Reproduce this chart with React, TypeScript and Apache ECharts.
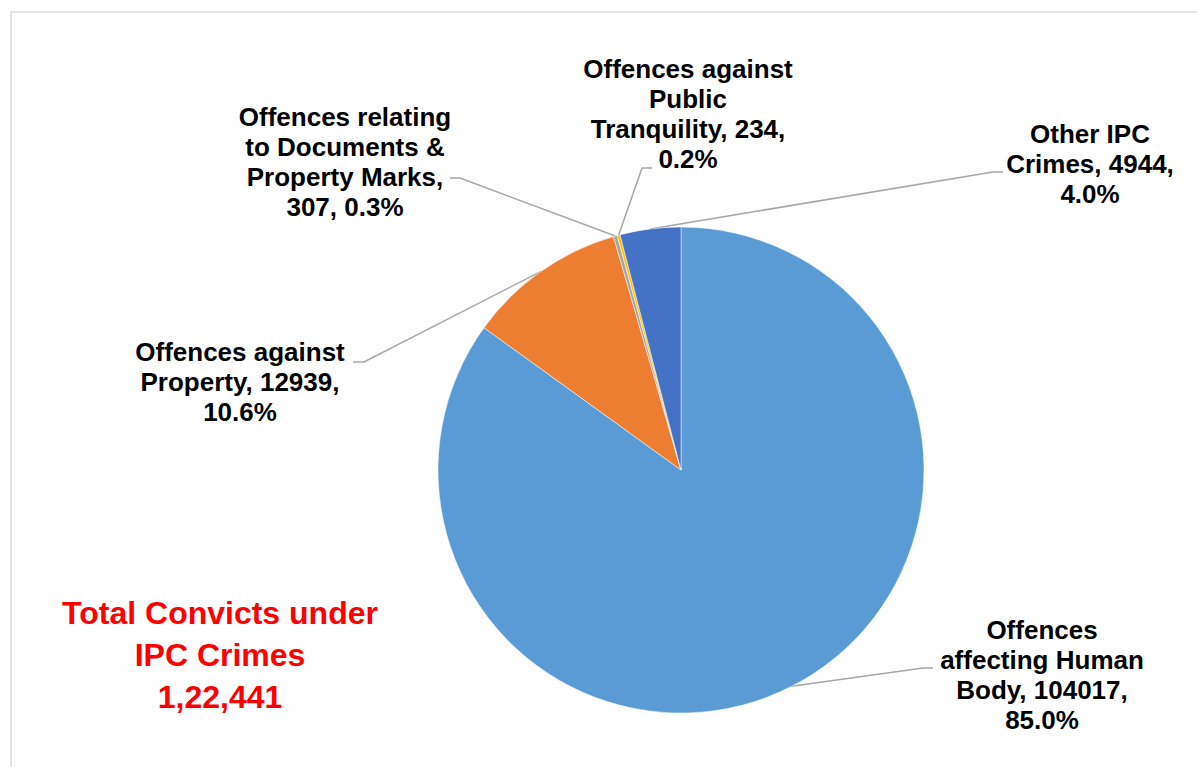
import React, { useEffect, useRef } from "react";
import * as echarts from "echarts";

// ---- data ----
const categories = [
  "Offences affecting Human Body",
  "Offences against Property",
  "Offences relating to Documents & Property Marks",
  "Offences against Public Tranquility",
  "Other IPC Crimes",
];
const wrappedNames = [
  "Offences\naffecting Human\nBody",
  "Offences against\nProperty",
  "Offences relating\nto Documents &\nProperty Marks",
  "Offences against\nPublic\nTranquility",
  "Other IPC\nCrimes",
];
const values = [104017, 12939, 307, 234, 4944];
const breakAfterName = [false, false, true, false, false];
const totalTitleLines = ["Total Convicts under", "IPC Crimes"];

// ---- styles / layout ----
const colors = ["#5B9BD5", "#ED7D31", "#A5A5A5", "#FFC000", "#4472C4"];
const labelPos = [
  { x: 1042, y: 675, elbow: [923, 668], end: [933, 668] },
  { x: 240, y: 382, elbow: [364, 362], end: [353, 362] },
  { x: 345, y: 162, elbow: [460, 178], end: [450, 178] },
  { x: 688, y: 114, elbow: [642, 168], end: [652, 168] },
  { x: 1090, y: 164, elbow: [993, 172], end: [1003, 172] },
];
const FONT = "'Liberation Sans', Arial, Helvetica, sans-serif";

function formatIndian(n: number): string {
  const s = String(Math.round(n));
  if (s.length <= 3) return s;
  const last3 = s.slice(-3);
  let rest = s.slice(0, -3);
  const parts: string[] = [];
  while (rest.length > 2) {
    parts.unshift(rest.slice(-2));
    rest = rest.slice(0, -2);
  }
  if (rest.length) parts.unshift(rest);
  return parts.join(",") + "," + last3;
}

export default function App() {
  const ref = useRef<HTMLDivElement>(null);
  useEffect(() => {
    if (!ref.current) return;
    const chart = echarts.init(ref.current, undefined, { renderer: "svg" });
    const total = values.reduce((a, b) => a + b, 0);
    const option: any = {
      animation: false,
      backgroundColor: "#ffffff",
      graphic: [
        {
          type: "rect",
          shape: { x: 11, y: 12, width: 1200, height: 800 },
          style: { fill: "none", stroke: "#D9D9D9", lineWidth: 1.5 },
          silent: true,
        },
        {
          type: "text",
          x: 220,
          y: 655,
          style: {
            text: [...totalTitleLines, formatIndian(total)].join("\n"),
            fill: "#FF0000",
            font: `bold 32px ${FONT}`,
            fontSize: 32,
            fontWeight: "bold",
            fontFamily: FONT,
            lineHeight: 42,
            textAlign: "center",
            textVerticalAlign: "middle",
          },
          silent: true,
        },
      ],
      series: [
        {
          type: "pie",
          center: [681, 470],
          radius: 243,
          startAngle: 90,
          clockwise: true,
          avoidLabelOverlap: false,
          silent: true,
          emphasis: { disabled: true },
          itemStyle: { borderColor: "#ffffff", borderWidth: 0.5 },
          data: categories.map((c, i) => ({
            name: c,
            value: values[i],
            itemStyle: { color: colors[i] },
          })),
          label: {
            show: true,
            position: "outside",
            fontFamily: FONT,
            fontSize: 26,
            fontWeight: "bold",
            lineHeight: 30,
            color: "#000000",
            align: "center",
            formatter: (p: any) => {
              const i = p.dataIndex;
              const pct = ((values[i] / total) * 100).toFixed(1) + "%";
              return breakAfterName[i]
                ? `${wrappedNames[i]},\n${values[i]}, ${pct}`
                : `${wrappedNames[i]}, ${values[i]},\n${pct}`;
            },
          },
          labelLine: {
            show: true,
            length: 20,
            length2: 10,
            lineStyle: { color: "#A6A6A6", width: 1.5 },
          },
          labelLayout: (params: any) => {
            const lp = labelPos[params.dataIndex];
            const pts = params.labelLinePoints;
            const start = pts && pts[0] ? [pts[0][0], pts[0][1]] : lp.elbow;
            return {
              x: lp.x,
              y: lp.y,
              align: "center",
              verticalAlign: "middle",
              labelLinePoints: [start, lp.elbow, lp.end],
            };
          },
        },
      ],
    };
    chart.setOption(option);
    return () => chart.dispose();
  }, []);
  return (
    <div
      ref={ref}
      style={{ position: "fixed", left: 0, top: 0, width: 1197, height: 767 }}
    />
  );
}
